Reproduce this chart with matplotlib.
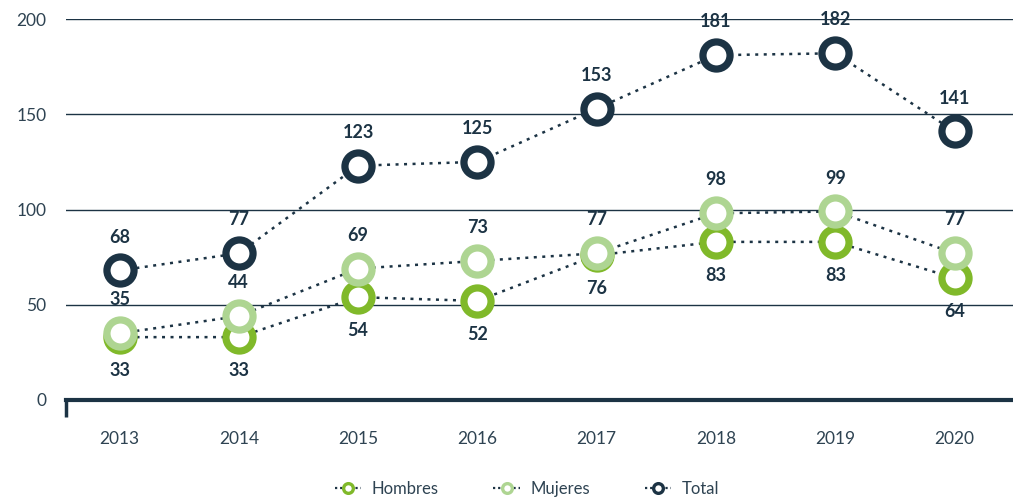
import numpy as np
import matplotlib.pyplot as plt
from matplotlib.lines import Line2D

plt.rcParams['font.family'] = ['Lato', 'DejaVu Sans']

years = ["2013", "2014", "2015", "2016", "2017", "2018", "2019", "2020"]
hombres = [33, 33, 54, 52, 76, 83, 83, 64]
mujeres = [35, 44, 69, 73, 77, 98, 99, 77]
total = [68, 77, 123, 125, 153, 181, 182, 141]

navy = "#1c3344"
c_h = "#80b92a"
c_m = "#aed592"

fig = plt.figure(figsize=(10.13, 5.0), dpi=100)
ax = fig.add_axes([0.065, 0.2, 0.935, 0.762])

x = np.arange(len(years))
series = [("Hombres", hombres, c_h, -1), ("Mujeres", mujeres, c_m, 1), ("Total", total, navy, 1)]

for name, vals, col, side in series:
    ax.plot(x, vals, color=navy, lw=1.8, dashes=(1.2, 2.2), zorder=2, clip_on=False)
    ax.plot(x, vals, ls="none", marker="o", ms=19.5, mew=5.2, mec=col, mfc="white",
            zorder=3, clip_on=False)
    for xi, v in zip(x, vals):
        ax.annotate(str(v), (xi, v), xytext=(0, 24 * side), textcoords="offset points",
                    ha="center", va="center", fontsize=13, fontweight="bold",
                    color=navy, annotation_clip=False)

ax.set_xlim(-0.45, 7.49)
ax.set_ylim(0, 200)
ax.set_yticks([0, 50, 100, 150, 200])
ax.set_xticks(x)
ax.set_xticklabels(years)
ax.grid(axis="y", color=navy, lw=1)
ax.set_axisbelow(True)
for s in ["top", "right", "left"]:
    ax.spines[s].set_visible(False)
ax.spines["bottom"].set_color(navy)
ax.spines["bottom"].set_linewidth(3)
ax.tick_params(axis="both", length=0, labelsize=12.5, colors="#2e4352")
ax.tick_params(axis="x", pad=22)
ax.tick_params(axis="y", pad=14)
ax.plot([-0.45, -0.45], [0, -9], color=navy, lw=2.5, clip_on=False, solid_capstyle="butt")

handles = [Line2D([0], [0], color=navy, lw=1.6, dashes=(1, 1.3), marker="o", ms=7,
                  mew=2.4, mec=c, mfc="white") for c in [c_h, c_m, navy]]
fig.legend(handles, ["Hombres", "Mujeres", "Total"], loc="center",
           bbox_to_anchor=(0.52, 0.022), ncol=3, frameon=False, fontsize=12,
           handlelength=1.6, handletextpad=0.6, columnspacing=3.3, labelcolor="#2e4352")

fig.savefig("out.png", dpi=100)
